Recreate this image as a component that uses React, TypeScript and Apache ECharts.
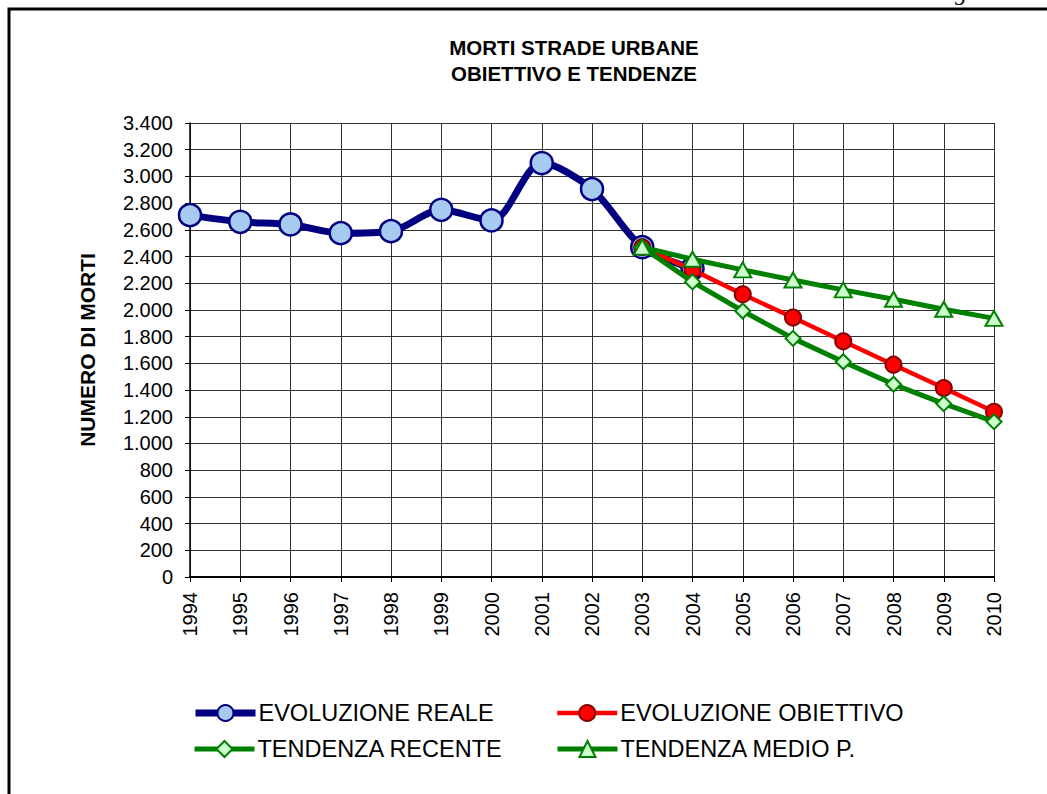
import React, { useEffect, useRef } from "react";
import * as echarts from "echarts";

const years = ["1994","1995","1996","1997","1998","1999","2000","2001","2002","2003","2004","2005","2006","2007","2008","2009","2010"];
const reale = [2710, 2660, 2640, 2575, 2590, 2750, 2670, 3100, 2905, 2470, 2310, null, null, null, null, null, null];
const obiettivo = [null, null, null, null, null, null, null, null, null, 2470, 2300, 2117, 1943, 1765, 1590, 1415, 1237];
const recente = [null, null, null, null, null, null, null, null, null, 2470, 2210, 1992, 1787, 1612, 1443, 1298, 1163];
const medio = [null, null, null, null, null, null, null, null, null, 2470, 2380, 2300, 2224, 2150, 2080, 2005, 1937];

const FONT = "'Liberation Sans', Arial, sans-serif";

export default function App() {
  const ref = useRef<HTMLDivElement>(null);
  useEffect(() => {
    document.body.style.margin = "0";
    const chart = echarts.init(ref.current!, null, { renderer: "svg" });
    const fmt = (v: number) => String(v).replace(/\B(?=(\d{3})+(?!\d))/g, ".");
    const legendBase = {
      orient: "horizontal",
      padding: 0,
      itemWidth: 60,
      itemHeight: 20,
      itemGap: 5,
      selectedMode: false,
      textStyle: { fontFamily: FONT, fontSize: 23.5, color: "#000", padding: [0, 0, 0, -2] },
    };
    chart.setOption({
      animation: false,
      backgroundColor: "#fff",
      title: {
        text: "MORTI STRADE URBANE\nOBIETTIVO E TENDENZE",
        left: 569,
        top: 29,
        textAlign: "center",
        textStyle: { fontFamily: FONT, fontSize: 20.5, fontWeight: "bold", color: "#000", lineHeight: 26 },
      },
      grid: { left: 190, right: 53, top: 123, bottom: 217 },
      legend: [
        { ...legendBase, left: 192, top: 701, lineStyle: { width: 7 }, data: ["EVOLUZIONE REALE"] },
        { ...legendBase, left: 555, top: 701, lineStyle: { width: 4.5 }, data: ["EVOLUZIONE OBIETTIVO"] },
        { ...legendBase, left: 192, top: 737, lineStyle: { width: 5 }, data: ["TENDENZA RECENTE"] },
        { ...legendBase, left: 555, top: 737, lineStyle: { width: 5 }, data: ["TENDENZA MEDIO P."] },
      ],
      xAxis: {
        type: "category",
        data: years,
        boundaryGap: false,
        axisLine: { lineStyle: { color: "#000", width: 2 } },
        axisTick: { show: true, length: 5, lineStyle: { color: "#000" } },
        axisLabel: { rotate: 90, margin: 15, fontFamily: FONT, fontSize: 20, color: "#000" },
        splitLine: { show: true, lineStyle: { color: "#333", width: 1 } },
      },
      yAxis: {
        type: "value",
        min: 0,
        max: 3400,
        interval: 200,
        name: "NUMERO DI MORTI",
        nameLocation: "middle",
        nameGap: 92,
        nameTextStyle: { fontFamily: FONT, fontSize: 21, fontWeight: "bold", color: "#000" },
        axisLine: { show: true, lineStyle: { color: "#000", width: 1.5 } },
        axisTick: { show: true, length: 5, lineStyle: { color: "#000" } },
        axisLabel: { margin: 17, fontFamily: FONT, fontSize: 20, color: "#000", formatter: fmt },
        splitLine: { show: true, lineStyle: { color: "#333", width: 1 } },
      },
      series: [
        {
          name: "EVOLUZIONE REALE",
          type: "line",
          data: reale,
          smooth: 0.3,
          symbol: "circle",
          symbolSize: 22,
          lineStyle: { color: "#000080", width: 7 },
          itemStyle: { color: "#A6CAF0", borderColor: "#000080", borderWidth: 2.5 },
          z: 2,
        },
        {
          name: "EVOLUZIONE OBIETTIVO",
          type: "line",
          data: obiettivo,
          symbol: "circle",
          symbolSize: 16,
          lineStyle: { color: "#FF0000", width: 4.5 },
          itemStyle: { color: "#FF0000", borderColor: "#800000", borderWidth: 2 },
          z: 3,
        },
        {
          name: "TENDENZA RECENTE",
          type: "line",
          data: recente,
          symbol: "diamond",
          symbolSize: 15,
          lineStyle: { color: "#008000", width: 5 },
          itemStyle: { color: "#CCFFCC", borderColor: "#008000", borderWidth: 2 },
          z: 4,
        },
        {
          name: "TENDENZA MEDIO P.",
          type: "line",
          data: medio,
          symbol: "triangle",
          symbolSize: [17, 15],
          lineStyle: { color: "#008000", width: 5 },
          itemStyle: { color: "#CCFFCC", borderColor: "#008000", borderWidth: 2 },
          z: 5,
        },
      ],
      graphic: [
        {
          type: "rect",
          shape: { x: 9, y: 9, width: 1200, height: 900 },
          style: { fill: "none", stroke: "#000", lineWidth: 3 },
          silent: true,
        },
        {
          type: "text",
          x: 955,
          y: -8,
          style: { text: "g", font: "italic 24px 'Liberation Serif', 'Times New Roman', serif", fill: "#000", verticalAlign: "middle" },
          silent: true,
        },
      ],
    });
    return () => chart.dispose();
  }, []);
  return <div ref={ref} style={{ position: "absolute", left: 0, top: 0, width: 1047, height: 794 }} />;
}
